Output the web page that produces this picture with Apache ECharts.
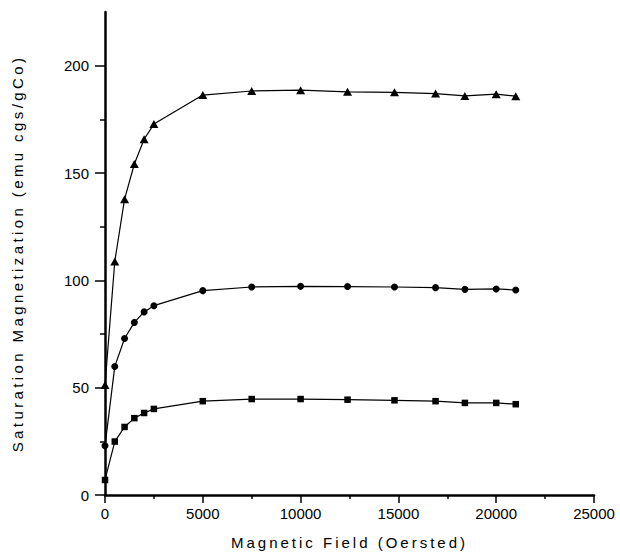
<!DOCTYPE html>
<html>
<head>
<meta charset="utf-8">
<script src="https://cdn.jsdelivr.net/npm/echarts@6/dist/echarts.min.js"></script>
<style>
    html, body { margin: 0; padding: 0; background: #fff; }
    #chart { width: 620px; height: 555px; }
    /* axis names are spaced out in the original scan */
    #chart text[style*="Arial"] { letter-spacing: 3.4px; }
    #chart text[style*="Helvetica"] { letter-spacing: 3px; }
</style>
</head>
<body>
<div id="chart"></div>
<script>
// magnetic field (Oe), shared by all three curves
const fieldOe = [0, 500, 1000, 1500, 2000, 2500, 5000, 7500, 10000, 12400, 14800, 16900, 18400, 20000, 21000];

// saturation magnetization, emu cgs/gCo
const triangleSeries = [51.2, 108.8, 137.8, 154.2, 165.7, 172.8, 186.3, 188.2, 188.6, 187.8, 187.6, 187.0, 185.9, 186.7, 185.8];
const circleSeries = [22.9, 59.9, 72.9, 80.4, 85.3, 88.2, 95.2, 96.9, 97.2, 97.1, 96.9, 96.6, 95.8, 96.0, 95.5];
const squareSeries = [7.0, 24.9, 31.7, 35.8, 38.2, 40.1, 43.7, 44.7, 44.7, 44.4, 44.1, 43.7, 42.9, 42.9, 42.3];

// y axis ticks
const yMajorTicks = [0, 50, 100, 150, 200];
const yMinorTicks = [25, 75, 125, 175];

const toPairs = ys => fieldOe.map((x, i) => [x, ys[i]]);

const chart = echarts.init(document.getElementById('chart'), null, { renderer: 'svg' });

const lineSeries = (name, data, symbol, size) => ({
    name: name,
    type: 'line',
    data: toPairs(data),
    symbol: symbol,
    symbolSize: size,
    showAllSymbol: true,
    lineStyle: { color: '#000', width: 1.2 },
    itemStyle: { color: '#000' },
    z: 3
});

const option = {
    animation: false,
    backgroundColor: '#fff',
    grid: { left: 105, right: 26, top: 12, bottom: 59 },
    xAxis: {
        type: 'value',
        min: 0,
        max: 25000,
        interval: 5000,
        name: 'Magnetic Field (Oersted)',
        nameLocation: 'middle',
        nameGap: 40,
        nameTextStyle: { color: '#000', fontSize: 15, fontFamily: 'Liberation Sans, Helvetica' },
        axisLine: { onZero: false, lineStyle: { color: '#000', width: 2.5 } },
        axisTick: { length: 8, lineStyle: { color: '#000', width: 1.5 } },
        minorTick: { show: true, splitNumber: 2, length: 4, lineStyle: { color: '#000', width: 1.5 } },
        splitLine: { show: false },
        minorSplitLine: { show: false },
        axisLabel: {
            color: '#000', fontSize: 15, margin: 11, fontFamily: 'Liberation Sans',
            formatter: v => String(v)
        }
    },
    yAxis: [
        {
            type: 'value',
            min: 0,
            max: 225,
            interval: 25,
            position: 'left',
            name: 'Saturation Magnetization (emu cgs/gCo)',
            nameLocation: 'middle',
            nameGap: 80,
            nameTextStyle: { color: '#000', fontSize: 15, fontFamily: 'Liberation Sans, Arial' },
            axisLine: { show: true, onZero: false, lineStyle: { color: '#000', width: 2.5 } },
            axisTick: { customValues: yMajorTicks, length: 10, lineStyle: { color: '#000', width: 1.5 } },
            axisLabel: { customValues: yMajorTicks, color: '#000', fontSize: 15, margin: 16, fontFamily: 'Liberation Sans' },
            splitLine: { show: false }
        },
        {
            // minor ticks only
            type: 'value',
            min: 0,
            max: 225,
            interval: 25,
            position: 'left',
            offset: 0,
            axisLine: { show: false },
            axisTick: { show: true, customValues: yMinorTicks, length: 5, lineStyle: { color: '#000', width: 1.5 } },
            axisLabel: { show: false },
            splitLine: { show: false }
        }
    ],
    series: [
        lineSeries('triangle', triangleSeries, 'triangle', [9, 8]),
        lineSeries('circle', circleSeries, 'circle', 7),
        lineSeries('square', squareSeries, 'rect', 6.5)
    ]
};

chart.setOption(option);
</script>
</body>
</html>
